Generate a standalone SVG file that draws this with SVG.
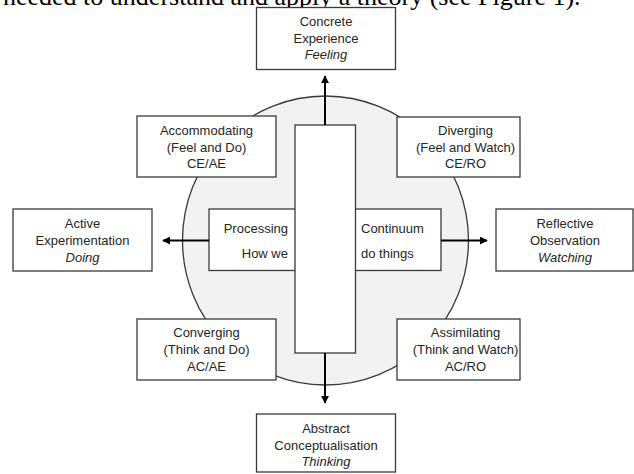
<svg xmlns="http://www.w3.org/2000/svg" width="634" height="474" viewBox="0 0 634 474">
<defs>
<style>
.box{fill:#ffffff;stroke:#3a3a3a;stroke-width:1.3}
.t{font-family:"Liberation Sans",Arial,sans-serif;font-size:13px;fill:#262626;text-anchor:middle}
.i{font-style:italic}
.l{text-anchor:start}
.r{text-anchor:end}
.arr{stroke:#000;stroke-width:2;fill:none;marker-end:url(#ah)}
</style>
<marker id="ah" viewBox="0 0 10 10" refX="9" refY="5" markerWidth="4" markerHeight="4" orient="auto" markerUnits="strokeWidth">
<path d="M0,0 L10,5 L0,10 z" fill="#000"/>
</marker>
</defs>
<rect width="634" height="474" fill="#ffffff"/>
<text x="3" y="5" style="font-family:'Liberation Serif','Times New Roman',serif;font-size:26px;fill:#000">needed to understand and apply a theory (see Figure 1).</text>

<g id="circle"><ellipse cx="325.5" cy="240.5" rx="143" ry="144.5" fill="#f2f2f2" stroke="#3a3a3a" stroke-width="1.3"/></g>

<g id="continuum">
<rect class="box" x="209" y="209" width="232" height="61.5"/>
<text class="t r" x="288" y="233">Processing</text>
<text class="t r" x="288" y="258">How we</text>
<text class="t l" x="361" y="233">Continuum</text>
<text class="t l" x="361" y="258">do things</text>
</g>
<g id="perception"><rect class="box" x="295" y="125" width="60.5" height="228"/></g>

<g id="accommodating">
<rect class="box" x="137" y="116" width="139" height="61"/>
<text class="t" x="206.5" y="135">Accommodating</text>
<text class="t" x="206.5" y="152">(Feel and Do)</text>
<text class="t" x="206.5" y="168">CE/AE</text>
</g>
<g id="diverging">
<rect class="box" x="397" y="117" width="123" height="60"/>
<text class="t" x="465.5" y="134.5">Diverging</text>
<text class="t" x="465.5" y="151.5">(Feel and Watch)</text>
<text class="t" x="465.5" y="168">CE/RO</text>
</g>
<g id="converging">
<rect class="box" x="137" y="319" width="139" height="61"/>
<text class="t" x="206.5" y="337">Converging</text>
<text class="t" x="206.5" y="354">(Think and Do)</text>
<text class="t" x="206.5" y="370.5">AC/AE</text>
</g>
<g id="assimilating">
<rect class="box" x="397" y="319" width="123" height="61"/>
<text class="t" x="465.5" y="337">Assimilating</text>
<text class="t" x="465.5" y="354">(Think and Watch)</text>
<text class="t" x="465.5" y="370.5">AC/RO</text>
</g>

<g id="concrete">
<rect class="box" x="256.5" y="7.5" width="139" height="62"/>
<text class="t" x="326" y="26">Concrete</text>
<text class="t" x="326" y="43">Experience</text>
<text class="t i" x="326" y="59">Feeling</text>
</g>
<g id="abstract">
<rect class="box" x="256.5" y="414" width="139" height="58"/>
<text class="t" x="326" y="433">Abstract</text>
<text class="t" x="326" y="450">Conceptualisation</text>
<text class="t i" x="326" y="465.5">Thinking</text>
</g>
<g id="active">
<rect class="box" x="13" y="209" width="139" height="62"/>
<text class="t" x="82.5" y="228">Active</text>
<text class="t" x="82.5" y="245">Experimentation</text>
<text class="t i" x="82.5" y="261.5">Doing</text>
</g>
<g id="reflective">
<rect class="box" x="496" y="209" width="137" height="62"/>
<text class="t" x="565" y="228">Reflective</text>
<text class="t" x="565" y="245">Observation</text>
<text class="t i" x="565" y="261.5">Watching</text>
</g>

<g id="connectors">
<line class="arr" x1="325" y1="125" x2="325" y2="76"/>
<line class="arr" x1="325" y1="353" x2="325" y2="403"/>
<line class="arr" x1="209" y1="240.5" x2="163" y2="240.5"/>
<line class="arr" x1="441" y1="240.5" x2="487" y2="240.5"/>
</g>
</svg>
